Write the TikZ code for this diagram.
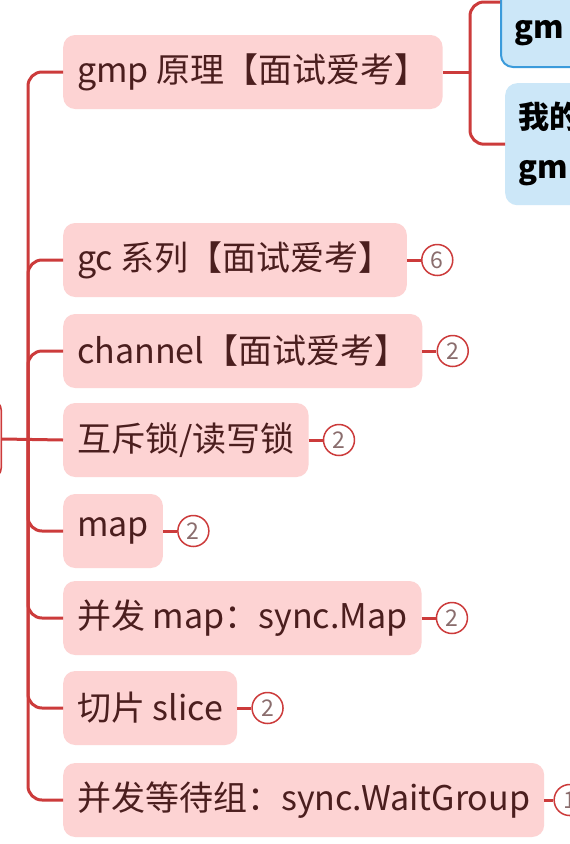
\documentclass[tikz,border=0pt]{standalone}
\usepackage{fontspec}
\setmainfont{Noto Sans CJK SC}
\usepackage{xcolor}
\usetikzlibrary{positioning}
\definecolor{pinkfill}{HTML}{FDD3D3}
\definecolor{txtbrown}{HTML}{4B1E1E}
\definecolor{linered}{HTML}{CC3B3B}
\definecolor{bluefill}{HTML}{CCE7F8}
\definecolor{blueline}{HTML}{3B9BDB}
\tikzset{
  topic/.style={fill=pinkfill, rounded corners=12pt, anchor=west, minimum height=74pt,
    inner xsep=14pt, text=txtbrown, font=\fontsize{34}{38}\selectfont},
  subtopic/.style={fill=bluefill, rounded corners=12pt, anchor=north west, text width=90pt,
    inner xsep=13pt, text=black, font=\fontsize{31}{50}\selectfont\bfseries, align=left},
  badge/.style={circle, draw=linered, fill=white, line width=1.5pt, minimum size=31pt,
    inner sep=0pt, text=txtbrown!65, font=\fontsize{23}{23}\selectfont},
  branch/.style={draw=linered, line width=3pt, rounded corners=14pt},
}
\begin{document}
\begin{tikzpicture}[x=1pt, y=-1pt]
\useasboundingbox (0,0) rectangle (570,844);
\clip (0,0) rectangle (570,844);
\fill[white] (0,0) rectangle (570,844);

% root, cut off on the left
\node[draw=linered, fill=pinkfill, line width=1.5pt, rounded corners=10pt,
  minimum width=80pt, minimum height=78pt, anchor=east] (root) at (2,439) {};
\coordinate (hub) at (28,439);

% topics
\node[topic] (gmp) at (63,72) {gmp 原理【面试爱考】};
\node[topic] (gc) at (63,260) {gc 系列【面试爱考】};
\node[topic] (chan) at (63,351) {channel【面试爱考】};
\node[topic] (mutex) at (63,440) {互斥锁/读写锁};
\node[topic] (map) at (63,531) {map};
\node[topic] (smap) at (63,618) {并发 map：sync.Map};
\node[topic] (slice) at (63,708) {切片 slice};
\node[topic] (wg) at (63,800) {并发等待组：sync.WaitGroup};

% trunk
\draw[branch] (root.east) -- (mutex.west);
\foreach \t in {gmp,gc,chan,map,smap,slice,wg}
  \draw[branch] (hub) |- (\t.west);

% counters
\node[badge, right=14pt of gc] (bgc) {6};
\node[badge, right=14pt of chan] (bchan) {2};
\node[badge, right=14pt of mutex] (bmutex) {2};
\node[badge, right=14pt of map] (bmap) {2};
\node[badge, right=14pt of smap] (bsmap) {2};
\node[badge, right=14pt of slice] (bslice) {2};
\node[badge, right=9pt of wg] (bwg) {1};
\foreach \t/\b in {gc/bgc,chan/bchan,mutex/bmutex,map/bmap,smap/bsmap,slice/bslice,wg/bwg}
  \draw[draw=linered, line width=3pt] (\t.east) -- (\b.west);

% gmp children, cut off on the right
\node[subtopic, draw=blueline, line width=2pt, minimum height=100pt] (sub1) at (500,-34) {\\gm};
\node[subtopic, minimum height=122pt] (sub2) at (505,83) {我的\\gm};
\coordinate (fork) at (470,72);
\coordinate (sub1in) at (500,2);
\draw[branch] (gmp.east) -- (fork);
\draw[branch] (fork) |- (sub1in);
\draw[branch] (fork) |- (sub2.west);
\end{tikzpicture}
\end{document}
